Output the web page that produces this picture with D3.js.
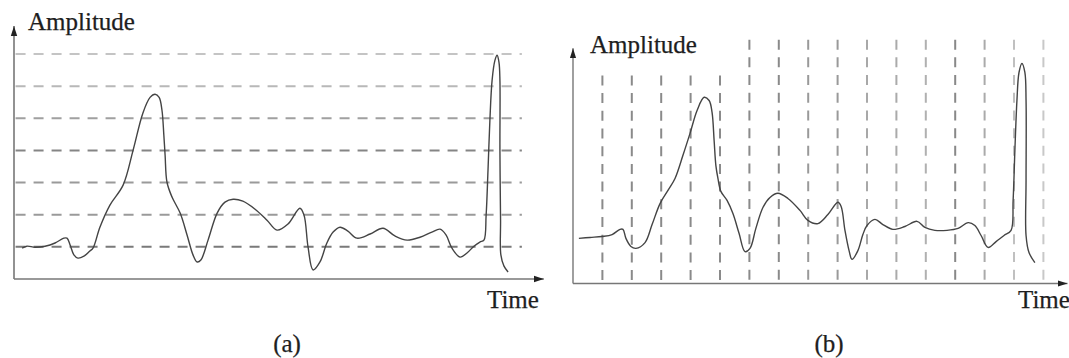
<!DOCTYPE html>
<html>
<head>
<meta charset="utf-8">
<script src="https://cdn.jsdelivr.net/npm/d3@7"></script>
<style>
  body { margin: 0; background: #fff; }
</style>
</head>
<body>
<svg id="chart"></svg>
<script>
// signal (a): time, amplitude (quantisation levels 0..7)
var timeA = [0.26,0.41,0.67,0.99,1.31,1.59,1.69,1.79,1.91,2.04,2.23,2.42,2.52,2.74,3.06,3.48,3.80,4.11,4.34,4.50,4.63,4.72,4.78,4.82,4.88,5.04,5.30,5.52,5.71,5.84,5.96,6.19,6.48,6.73,6.99,7.30,7.69,8.07,8.39,8.74,9.12,9.25,9.38,9.54,9.76,9.98,10.18,10.40,10.65,10.94,11.36,11.77,12.15,12.54,12.95,13.33,13.59,13.78,13.97,14.23,14.45,14.67,14.86,14.99,15.06,15.12,15.18,15.25,15.34,15.41,15.47,15.50,15.50,15.52,15.53,15.63,15.76];
var ampA  = [0.96,1.02,0.99,1.02,1.12,1.27,1.27,1.06,0.75,0.65,0.71,0.87,0.96,1.61,2.30,2.92,4.01,5.16,5.65,5.75,5.65,5.25,4.47,3.85,3.01,2.55,2.05,1.37,0.75,0.53,0.59,1.21,2.05,2.39,2.48,2.42,2.17,1.83,1.52,1.71,2.20,1.99,0.99,0.28,0.53,1.12,1.46,1.61,1.49,1.27,1.40,1.58,1.34,1.21,1.30,1.46,1.55,1.37,0.96,0.68,0.81,1.02,1.15,1.21,1.99,3.39,4.94,6.18,6.80,6.96,6.74,6.18,4.01,1.83,0.75,0.40,0.22];

// signal (b)
var timeB = [0.20,0.58,0.99,1.33,1.60,1.70,1.80,1.97,2.14,2.45,2.69,2.96,3.23,3.47,3.74,3.98,4.22,4.46,4.63,4.73,4.80,4.86,4.93,5.03,5.24,5.44,5.65,5.85,6.02,6.22,6.46,6.70,6.97,7.31,7.72,7.99,8.33,8.67,9.01,9.12,9.25,9.39,9.49,9.69,9.86,10.00,10.27,10.54,10.88,11.29,11.70,11.97,12.31,12.72,13.10,13.44,13.67,13.88,14.12,14.39,14.66,14.90,14.97,15.03,15.10,15.17,15.27,15.37,15.41,15.41,15.41,15.51,15.71];
var ampB  = [1.40,1.43,1.46,1.52,1.68,1.68,1.40,1.15,1.09,1.27,1.83,2.48,2.89,3.26,3.98,4.66,5.37,5.78,5.68,5.31,4.44,3.66,3.26,2.86,2.58,2.17,1.55,0.99,1.09,1.71,2.36,2.67,2.80,2.64,2.27,1.96,1.86,2.14,2.52,2.39,1.65,1.02,0.75,1.02,1.52,1.80,1.99,1.83,1.68,1.77,1.93,1.74,1.65,1.65,1.71,1.89,1.80,1.49,1.12,1.30,1.49,1.65,2.58,4.13,5.68,6.55,6.83,6.55,5.68,3.20,1.49,0.96,0.65];

// grid: amplitude levels in (a), sampling instants in (b)
var levelsA = [1,2,3,4,5,6,7];
var sampleTimes = [1,2,3,4,5,6,7,8,9,10,11,12,13,14,15,16];

var width = 1069, height = 358;
var serif = "'Liberation Serif', 'Times New Roman', Times, 'DejaVu Serif', serif";
var svg = d3.select("#chart").attr("width", width).attr("height", height);

var defs = svg.append("defs");
defs.append("marker").attr("id", "arrow")
    .attr("viewBox", "0 -4 10 8").attr("refX", 10).attr("refY", 0)
    .attr("markerUnits", "userSpaceOnUse")
    .attr("markerWidth", 10).attr("markerHeight", 8).attr("orient", "auto")
  .append("path").attr("d", "M0,-3.2L10,0L0,3.2Z").attr("fill", "#222");

var line = function(x, y){
  return d3.line().x(function(d){return x(d[0]);}).y(function(d){return y(d[1]);})
           .curve(d3.curveCatmullRom.alpha(0.5));
}

var label = function(g, x, y, s, anchor){
  g.append("text").attr("x", x).attr("y", y)
    .attr("font-family", serif).attr("font-size", 25).attr("fill", "#1e1e1e")
    .attr("stroke", "#1e1e1e").attr("stroke-width", 0.25)
    .attr("text-anchor", anchor || "start").text(s);
}

// ---------- panel (a)
var xA = d3.scaleLinear().domain([0, 16]).range([14, 515.6]);
var yA = d3.scaleLinear().domain([0, 7]).range([279, 54]);
var gA = svg.append("g");

var greysA = ["#7a7a7a","#9a9a9a","#9a9a9a","#858585","#a0a0a0","#b8b8b8","#c4c4c4"];
gA.selectAll("line.level").data(levelsA).enter().append("line")
    .attr("x1", xA(0.05)).attr("x2", xA(16.2))
    .attr("y1", function(d){return yA(d);}).attr("y2", function(d){return yA(d);})
    .attr("stroke", function(d,i){return greysA[i];})
    .attr("stroke-width", 2).attr("stroke-dasharray", "10,8");

gA.append("line").attr("x1", xA(0)).attr("x2", xA(0)).attr("y1", yA(0)).attr("y2", yA(7.87))
    .attr("stroke", "#777").attr("stroke-width", 1.6).attr("marker-end", "url(#arrow)");
gA.append("line").attr("x1", xA(0)).attr("x2", xA(16.9)).attr("y1", yA(0)).attr("y2", yA(0))
    .attr("stroke", "#777").attr("stroke-width", 1.6).attr("marker-end", "url(#arrow)");

gA.append("path").datum(d3.zip(timeA, ampA)).attr("d", line(xA, yA))
    .attr("fill", "none").attr("stroke", "#444").attr("stroke-width", 1.4);

label(gA, 28, 30, "Amplitude");
label(gA, 487, 308, "Time");
label(gA, 287, 352, "(a)", "middle");

// ---------- panel (b)
var xB = d3.scaleLinear().domain([0, 16]).range([573, 1043.4]);
var yB = d3.scaleLinear().domain([0, 7]).range([283.5, 58]);
var gB = svg.append("g");

var greysB = ["#8a8a8a","#8a8a8a","#8a8a8a","#8a8a8a","#8a8a8a","#8a8a8a","#8a8a8a",
              "#999","#999","#a8a8a8","#aaa","#b0b0b0","#888","#aaa","#c0c0c0","#c8c8c8"];
gB.selectAll("line.sample").data(sampleTimes).enter().append("line")
    .attr("x1", function(d){return xB(d);}).attr("x2", function(d){return xB(d);})
    .attr("y1", function(d){return d <= 5 ? yB(6.46) : yB(7.57);}).attr("y2", yB(0))
    .attr("stroke", function(d,i){return greysB[i];})
    .attr("stroke-width", 2).attr("stroke-dasharray", "10,7.7");

gB.append("line").attr("x1", xB(0)).attr("x2", xB(0)).attr("y1", yB(0)).attr("y2", yB(7.3))
    .attr("stroke", "#888").attr("stroke-width", 1.6).attr("marker-end", "url(#arrow)");
gB.append("line").attr("x1", xB(0)).attr("x2", xB(16.82)).attr("y1", yB(0)).attr("y2", yB(0))
    .attr("stroke", "#777").attr("stroke-width", 1.6).attr("marker-end", "url(#arrow)");

gB.append("path").datum(d3.zip(timeB, ampB)).attr("d", line(xB, yB))
    .attr("fill", "none").attr("stroke", "#444").attr("stroke-width", 1.4);

label(gB, 590, 53, "Amplitude");
label(gB, 1018, 308, "Time");
label(gB, 829, 352, "(b)", "middle");
</script>
</body>
</html>
